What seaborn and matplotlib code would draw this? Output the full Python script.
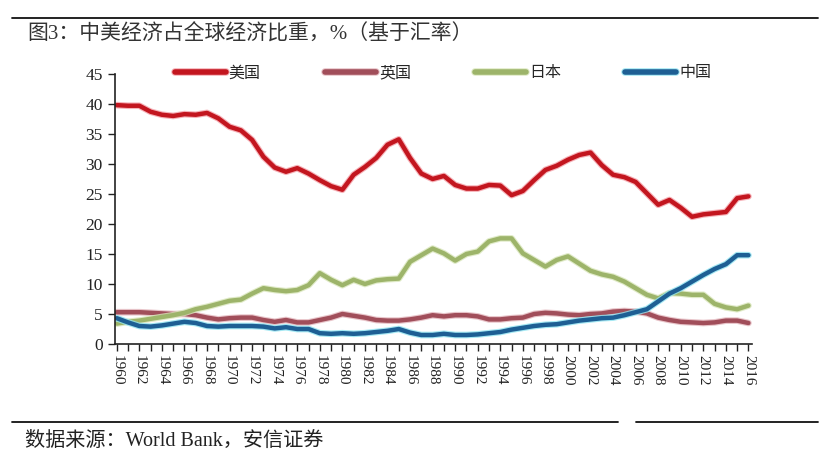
import matplotlib
matplotlib.use("Agg")
import matplotlib.pyplot as plt
import matplotlib.patheffects as pe
from matplotlib.lines import Line2D
from matplotlib.ticker import MultipleLocator
import numpy as np
import pandas as pd
import seaborn as sns

years = list(range(1960, 2017))

us = [39.8, 39.7, 39.7, 38.7, 38.2, 38.0, 38.3, 38.2, 38.5, 37.6,
      36.2, 35.6, 34.0, 31.2, 29.4, 28.7, 29.3, 28.4, 27.3, 26.3,
      25.7, 28.2, 29.5, 31.0, 33.2, 34.1, 31.0, 28.4, 27.5, 28.0,
      26.5, 25.9, 25.9, 26.5, 26.4, 24.8, 25.5, 27.3, 29.0, 29.7,
      30.7, 31.5, 31.9, 29.8, 28.2, 27.8, 27.0, 25.1, 23.2, 24.0,
      22.7, 21.2, 21.6, 21.8, 22.0, 24.3, 24.6]

uk = [5.3, 5.3, 5.3, 5.2, 5.1, 5.0, 5.0, 4.8, 4.4, 4.1,
      4.3, 4.4, 4.4, 4.0, 3.7, 4.0, 3.6, 3.6, 4.0, 4.4,
      5.0, 4.7, 4.4, 4.0, 3.9, 3.9, 4.1, 4.4, 4.8, 4.6,
      4.8, 4.8, 4.6, 4.1, 4.1, 4.3, 4.4, 5.0, 5.2, 5.1,
      4.9, 4.8, 5.0, 5.1, 5.4, 5.5, 5.4, 5.1, 4.4, 4.0,
      3.7, 3.6, 3.5, 3.6, 3.9, 3.9, 3.5]

japan = [3.4, 3.7, 3.9, 4.2, 4.5, 4.8, 5.2, 5.8, 6.2, 6.7,
         7.2, 7.4, 8.4, 9.3, 9.0, 8.8, 9.0, 9.8, 11.8, 10.7,
         9.8, 10.7, 10.0, 10.6, 10.8, 10.9, 13.7, 14.8, 15.9, 15.1,
         13.9, 15.0, 15.4, 17.1, 17.6, 17.6, 15.1, 14.0, 12.9, 14.0,
         14.6, 13.4, 12.2, 11.6, 11.2, 10.4, 9.3, 8.2, 7.6, 8.5,
         8.4, 8.2, 8.2, 6.7, 6.1, 5.8, 6.4]

china = [4.3, 3.6, 3.0, 2.9, 3.1, 3.4, 3.7, 3.5, 3.0, 2.9,
         3.0, 3.0, 3.0, 2.9, 2.6, 2.8, 2.5, 2.5, 1.8, 1.7,
         1.8, 1.7, 1.8, 2.0, 2.2, 2.5, 1.9, 1.5, 1.5, 1.7,
         1.5, 1.5, 1.6, 1.8, 2.0, 2.4, 2.7, 3.0, 3.2, 3.3,
         3.6, 3.9, 4.1, 4.3, 4.4, 4.8, 5.3, 5.8, 7.1, 8.4,
         9.3, 10.4, 11.5, 12.5, 13.3, 14.8, 14.8]

series_names = ["美国", "英国", "日本", "中国"]
series_values = [us, uk, japan, china]
colors = ["#C3161F", "#A14E5A", "#9DB46A", "#1E5F94"]
glows = ["#F4A0A8", "#E3B7BD", "#D9E6BB", "#8FE3F0"]
xtick_labels = [str(y) for y in range(1960, 2017, 2)]

title = "图3：中美经济占全球经济比重，%（基于汇率）"
source = "数据来源：World Bank，安信证券"

rows = []
for name, vals in zip(series_names, series_values):
    for y, v in zip(years, vals):
        rows.append({"year": y, "value": v, "country": name})
df = pd.DataFrame(rows)

sns.set_style("white")
plt.rcParams["font.family"] = ["Liberation Serif", "Noto Sans CJK SC", "DejaVu Sans"]

fig = plt.figure(figsize=(8.28, 4.73), dpi=100)
ax = fig.add_axes([0.139, 0.2727, 0.769, 0.571])

sns.lineplot(data=df, x="year", y="value", hue="country", hue_order=series_names,
             palette=colors, linewidth=3.2, ax=ax, legend=False)

for line, g in zip(ax.get_lines(), glows):
    line.set_path_effects([pe.Stroke(linewidth=4.8, foreground=g, alpha=0.8), pe.Normal()])
    line.set_solid_capstyle("round")
    line.set_solid_joinstyle("round")

ax.set_xlim(1959.85, 2016.3)
ax.set_ylim(0, 45)
ax.yaxis.set_major_locator(MultipleLocator(5))
ax.set_xticks(list(range(1960, 2017, 2)))
ax.set_xticklabels(xtick_labels, rotation=-90, fontsize=11, color="#222222",
                   family=["Liberation Serif"])
ax.xaxis.set_minor_locator(MultipleLocator(1))
ax.tick_params(axis="x", which="both", direction="out", length=5, width=1,
               color="#222222", bottom=True, pad=3)
ax.tick_params(axis="y", which="major", direction="out", length=5, width=1,
               color="#222222", left=True, labelsize=12.5, labelcolor="#222222", pad=4)
for lab in ax.get_yticklabels():
    lab.set_family(["Liberation Serif"])
ax.set_xlabel("")
ax.set_ylabel("")
for s in ["top", "right"]:
    ax.spines[s].set_visible(False)
for s in ["left", "bottom"]:
    ax.spines[s].set_color("#222222")
    ax.spines[s].set_linewidth(1.2)

handles = []
for c, g in zip(colors, glows):
    h = Line2D([0], [0], color=c, linewidth=4.0, solid_capstyle="round",
               path_effects=[pe.Stroke(linewidth=5.5, foreground=g, alpha=0.8), pe.Normal()])
    handles.append(h)
fig.legend(handles, series_names, loc="center", bbox_to_anchor=(0.535, 0.846), ncol=4,
           frameon=False, handlelength=3.2, handletextpad=0.2, columnspacing=4.0,
           prop={"family": ["Noto Sans CJK SC"], "size": 11.5})

# header and footer rules
fig.add_artist(Line2D([12 / 828, 818 / 828], [1 - 18 / 473, 1 - 18 / 473],
                      color="#111111", linewidth=1.3, transform=fig.transFigure))
fig.add_artist(Line2D([12 / 828, 618 / 828], [1 - 422 / 473, 1 - 422 / 473],
                      color="#111111", linewidth=1.3, transform=fig.transFigure))
fig.add_artist(Line2D([636 / 828, 818 / 828], [1 - 422 / 473, 1 - 422 / 473],
                      color="#111111", linewidth=1.3, transform=fig.transFigure))

fig.text(27 / 828, 1 - 34 / 473, title, fontsize=15, color="#333333",
         family=["Liberation Serif", "Noto Sans CJK SC"], va="center", ha="left")
fig.text(25 / 828, 1 - 441 / 473, source, fontsize=14.5, color="#222222",
         family=["Liberation Serif", "Noto Sans CJK SC"], va="center", ha="left")

fig.savefig("out.png", dpi=100, facecolor="white")
